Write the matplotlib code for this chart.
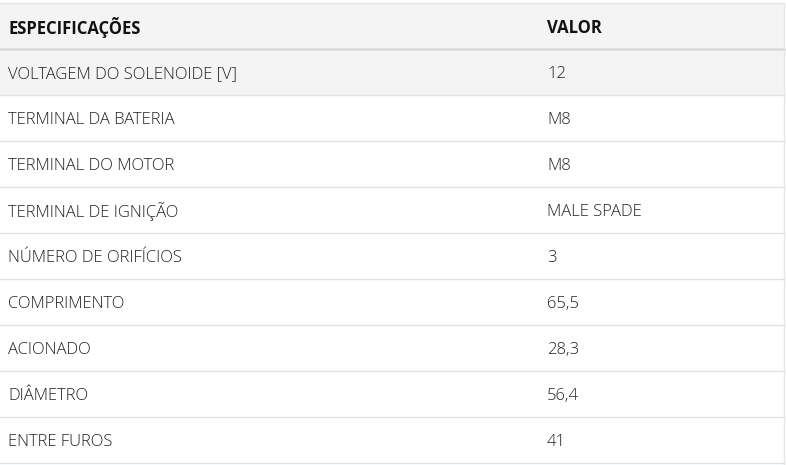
import matplotlib.pyplot as plt
from matplotlib.patches import Rectangle

HEADERS = ["ESPECIFICAÇÕES", "VALOR"]
SPECS = ["VOLTAGEM DO SOLENOIDE [V]", "TERMINAL DA BATERIA", "TERMINAL DO MOTOR",
         "TERMINAL DE IGNIÇÃO", "NÚMERO DE ORIFÍCIOS", "COMPRIMENTO",
         "ACIONADO", "DIÂMETRO", "ENTRE FUROS"]
VALUES = ["12", "M8", "M8", "MALE SPADE", "3", "65,5", "28,3", "56,4", "41"]

W, H = 786, 465
TOP, HEAD_H, ROW_H = 3, 46, 46
COL_X = [8, 547]

fig = plt.figure(figsize=(W / 100, H / 100), dpi=100)
ax = fig.add_axes([0, 0, 1, 1])
ax.set_xlim(0, W)
ax.set_ylim(H, 0)
ax.axis("off")

ax.add_patch(Rectangle((0, TOP), W - 2, HEAD_H, color="#f4f4f4", lw=0))
ax.plot([0, W - 2], [TOP, TOP], color="#e6e6e6", lw=1)
ax.plot([0, W - 2], [TOP + HEAD_H, TOP + HEAD_H], color="#dcdcdc", lw=2)
for x, h in zip(COL_X, HEADERS):
    ax.text(x, TOP + HEAD_H / 2 + 2, h, fontsize=12, fontweight="bold",
            family="Open Sans", color="#111111", va="center")

for i, (s, v) in enumerate(zip(SPECS, VALUES)):
    y0 = TOP + HEAD_H + i * ROW_H
    if i == 0:
        ax.add_patch(Rectangle((0, y0), W - 2, ROW_H, color="#f4f4f4", lw=0))
    ax.plot([0, W - 2], [y0 + ROW_H, y0 + ROW_H], color="#dee2e6", lw=1)
    for x, t in zip(COL_X, [s, v]):
        ax.text(x, y0 + ROW_H / 2 + 2, t, fontsize=12, family="Open Sans",
                fontweight="light", color="#222222", va="center")

ax.plot([W - 2, W - 2], [TOP, H], color="#e6e6e6", lw=1)

fig.savefig("out.png", dpi=100)
